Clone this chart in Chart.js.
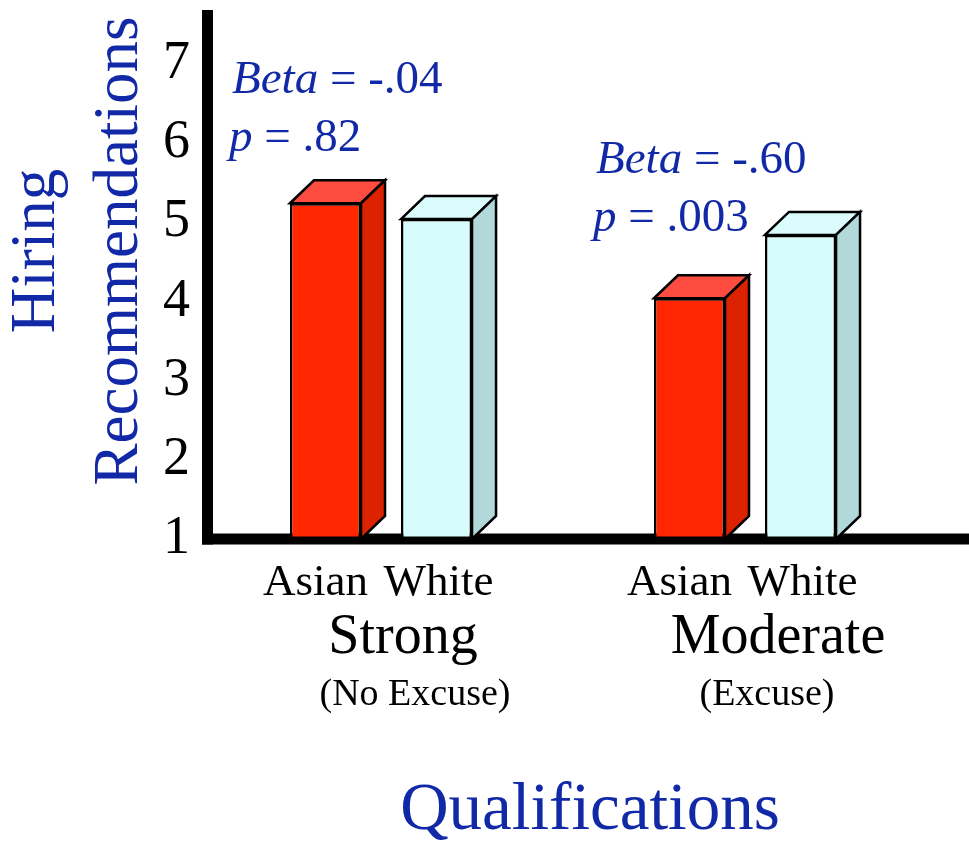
<!DOCTYPE html>
<html>
<head>
<meta charset="utf-8">
<script src="https://cdn.jsdelivr.net/npm/chart.js@4.4.1/dist/chart.umd.min.js"></script>
<style>
  html, body { margin: 0; padding: 0; background: #fff; }
  #wrap { width: 969px; height: 844px; position: relative; }
</style>
</head>
<body>
<div id="wrap"><canvas id="hiring"></canvas></div>
<script>
// data
const groups = ["Strong", "Moderate"];
const groupNotes = ["(No Excuse)", "(Excuse)"];
const seriesNames = ["Asian", "White"];
const asian = [5.24, 4.04];
const white = [5.04, 4.84];
const betas = ["-.04", "-.60"];
const pValues = [".82", ".003"];
const yTicks = [1, 2, 3, 4, 5, 6, 7];

const serif = '"Liberation Serif", "Times New Roman", serif';
const blue = "#1129a6";
const depthX = 24, depthY = 23;

// axes lines, drawn under the bars
const axesPlugin = {
  id: "axes",
  beforeDatasetsDraw(chart) {
    const { ctx, chartArea } = chart;
    const y1 = chart.scales.y.getPixelForValue(1);
    const ax = chartArea.left + 8.5;
    ctx.save();
    ctx.fillStyle = "#000";
    ctx.fillRect(ax - 5.5, y1 - 5.5, chart.width - ax + 5.5, 11);
    ctx.fillRect(ax - 5.5, chartArea.top, 11, y1 + 5.5 - chartArea.top);
    ctx.restore();
  }
};

// top and side faces for the 3d look
const boxPlugin = {
  id: "box3d",
  afterDatasetsDraw(chart) {
    const ctx = chart.ctx;
    chart.data.datasets.forEach((ds, di) => {
      chart.getDatasetMeta(di).data.forEach((bar) => {
        const { x, y, width, base } = bar.getProps(["x", "y", "width", "base"], true);
        const l = x - width / 2, r = x + width / 2;
        ctx.save();
        ctx.lineWidth = 2.5;
        ctx.lineJoin = "miter";
        ctx.strokeStyle = "#000";
        ctx.beginPath();
        ctx.moveTo(l, y);
        ctx.lineTo(l + depthX, y - depthY);
        ctx.lineTo(r + depthX, y - depthY);
        ctx.lineTo(r, y);
        ctx.closePath();
        ctx.fillStyle = ds.topColor;
        ctx.fill();
        ctx.stroke();
        ctx.beginPath();
        ctx.moveTo(r, y);
        ctx.lineTo(r + depthX, y - depthY);
        ctx.lineTo(r + depthX, base - depthY);
        ctx.lineTo(r, base);
        ctx.closePath();
        ctx.fillStyle = ds.sideColor;
        ctx.fill();
        ctx.stroke();
        ctx.restore();
      });
    });
  }
};

// all the text around the plot
const textPlugin = {
  id: "texts",
  afterDraw(chart) {
    const ctx = chart.ctx;
    const xs = chart.scales.x;
    ctx.save();

    // y title
    ctx.fillStyle = blue;
    ctx.font = "63px " + serif;
    ctx.textAlign = "center";
    ctx.textBaseline = "alphabetic";
    [["Hiring", 54], ["Recommendations", 137]].forEach(([t, bx]) => {
      ctx.save();
      ctx.translate(bx, 251);
      ctx.rotate(-Math.PI / 2);
      ctx.fillText(t, 0, 0);
      ctx.restore();
    });

    // x title
    ctx.font = "67px " + serif;
    ctx.fillText("Qualifications", 590, 829);

    const mainShift = [22, 33];
    const noteShift = [34, 22];
    groups.forEach((g, i) => {
      const cx = xs.getPixelForValue(i);
      ctx.fillStyle = "#000";
      ctx.textAlign = "center";

      // series names under each bar
      const bars = chart.data.datasets.map((ds, di) => chart.getDatasetMeta(di).data[i].x);
      ctx.font = "45px " + serif;
      ctx.fillText(seriesNames[0], bars[0] - 10, 595);
      ctx.fillText(seriesNames[1], bars[1] + 2, 595);

      ctx.font = "56px " + serif;
      ctx.fillText(g, cx + mainShift[i], 653);
      ctx.font = "38px " + serif;
      ctx.fillText(groupNotes[i], cx + noteShift[i], 705);

      // stats
      const sx = cx - 149;
      const by = i === 0 ? 93 : 173;
      ctx.fillStyle = blue;
      ctx.textAlign = "left";
      ctx.font = "italic 47px " + serif;
      ctx.fillText("Beta", sx, by);
      let w = ctx.measureText("Beta").width;
      ctx.font = "47px " + serif;
      ctx.fillText(" = " + betas[i], sx + w, by);
      const py = by + 58;
      ctx.font = "italic 47px " + serif;
      ctx.fillText("p", sx - 3, py);
      w = ctx.measureText("p").width;
      ctx.font = "47px " + serif;
      ctx.fillText(" = " + pValues[i], sx - 3 + w, py);
    });
    ctx.restore();
  }
};

const barStyle = {
  borderColor: "#000",
  borderWidth: 2.5,
  borderSkipped: false,
  base: 1,
  barPercentage: 0.64,
  categoryPercentage: 0.61,
};

new Chart(document.getElementById("hiring"), {
  type: "bar",
  data: {
    labels: groups,
    datasets: [
      Object.assign({
        label: seriesNames[0],
        data: asian,
        backgroundColor: "#ff2600",
        topColor: "#ff4c40",
        sideColor: "#dc2200",
      }, barStyle),
      Object.assign({
        label: seriesNames[1],
        data: white,
        backgroundColor: "#d6fcfc",
        topColor: "#dafcfc",
        sideColor: "#b2d9d9",
      }, barStyle),
    ],
  },
  options: {
    responsive: true,
    maintainAspectRatio: false,
    animation: false,
    devicePixelRatio: 1,
    layout: { padding: { top: 10, right: 42, bottom: 305, left: 0 } },
    plugins: {
      legend: { display: false },
      tooltip: { enabled: false },
    },
    scales: {
      x: { display: false },
      y: {
        min: 1,
        max: 7.68,
        grid: { display: false, drawTicks: false },
        border: { display: false },
        afterBuildTicks: (s) => { s.ticks = yTicks.map((v) => ({ value: v })); },
        afterFit: (s) => { s.width = 199; s.paddingTop = 0; s.paddingBottom = 0; },
        ticks: {
          autoSkip: false,
          padding: 9,
          color: "#000",
          font: { family: serif, size: 54 },
        },
      },
    },
  },
  plugins: [axesPlugin, boxPlugin, textPlugin],
});
</script>
</body>
</html>
